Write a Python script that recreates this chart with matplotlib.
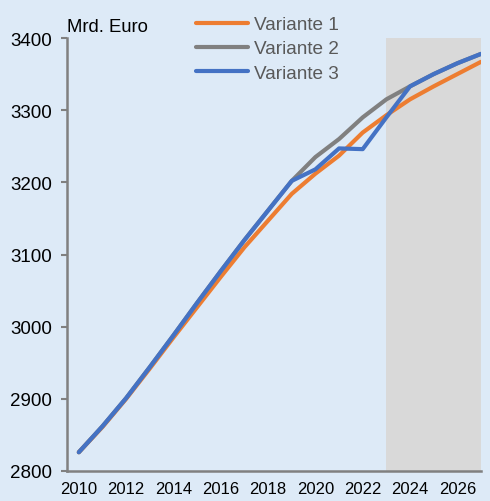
import matplotlib
matplotlib.use("Agg")
import matplotlib.pyplot as plt

years = list(range(2010, 2028))
variante1 = [2826, 2861, 2900, 2942, 2985, 3027, 3069, 3110, 3147, 3184,
             3212, 3237, 3269, 3293, 3315, 3333, 3350, 3367]
variante2 = [2826, 2862, 2901, 2944, 2988, 3033, 3077, 3120, 3161, 3202,
             3235, 3260, 3290, 3315, 3333, 3350, 3365, 3378]
variante3 = [2826, 2862, 2901, 2944, 2988, 3033, 3077, 3120, 3161, 3202,
             3218, 3247, 3246, 3290, 3333, 3350, 3365, 3378]
series_names = ["Variante 1", "Variante 2", "Variante 3"]
colors = ["#ED7D31", "#808080", "#4472C4"]
shade_start, shade_end = 2023, 2027
xtick_years = list(range(2010, 2027, 2))
yticks = [2800, 2900, 3000, 3100, 3200, 3300, 3400]

plt.rcParams['font.family'] = ['Liberation Sans', 'DejaVu Sans']
bg = "#DDEAF7"
fig = plt.figure(figsize=(4.9, 5.02), dpi=100, facecolor=bg)
ax = fig.add_axes([67/490, 1-472/502, (481-67)/490, (472-39)/502])
ax.set_facecolor(bg)

ax.axvspan(shade_start, shade_end, color="#D9D9D9", lw=0, zorder=0)
lines = []
for vals, name, c in zip([variante1, variante2, variante3], series_names, colors):
    l, = ax.plot(years, vals, color=c, lw=3, label=name, solid_capstyle='round', zorder=2)
    lines.append(l)

ax.set_xlim(2009.5, 2027)
ax.set_ylim(2800, 3400)
ax.set_yticks(yticks)
ax.set_xticks(xtick_years)
ax.tick_params(axis='y', labelsize=13.5, length=4, width=1.5, color="#808080", pad=7, labelcolor="black")
ax.tick_params(axis='x', labelsize=12, length=0, pad=7, labelcolor="black")
for s in ['top', 'right']:
    ax.spines[s].set_visible(False)
for s in ['left', 'bottom']:
    ax.spines[s].set_color("#808080")
    ax.spines[s].set_linewidth(1.8)

fig.text(67/490, 1-32/502, "Mrd. Euro", fontsize=13.3, ha='left', va='baseline', color='black')

leg = fig.legend(handles=lines, loc='upper left', bbox_to_anchor=(196/490, 1-17/502),
                 frameon=False, fontsize=13.7, handlelength=2.75, handletextpad=0.3,
                 labelspacing=0.36, borderaxespad=0, borderpad=0)
for t in leg.get_texts():
    t.set_color("#595959")

fig.savefig("out.png", dpi=100, facecolor=bg)
